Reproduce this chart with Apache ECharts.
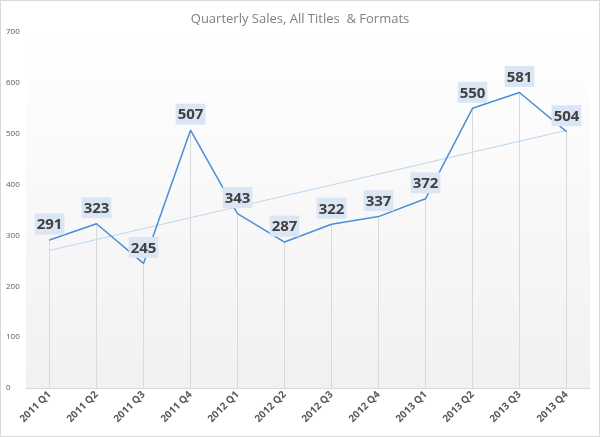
<!DOCTYPE html>
<html>
<head>
<meta charset="utf-8">
<script src="https://cdn.jsdelivr.net/npm/echarts@6/dist/echarts.min.js"></script>
<style>
  html, body { margin: 0; padding: 0; background: #fff; }
  #chart { width: 598px; height: 435px; border: 1px solid #d9d9d9; }
</style>
</head>
<body>
<div id="chart"></div>
<script>
const quarters = ['2011 Q1', '2011 Q2', '2011 Q3', '2011 Q4', '2012 Q1', '2012 Q2',
                  '2012 Q3', '2012 Q4', '2013 Q1', '2013 Q2', '2013 Q3', '2013 Q4']
const sales = [291, 323, 245, 507, 343, 287, 322, 337, 372, 550, 581, 504]
const yTicks = [0, 100, 200, 300, 400, 500, 600, 700]

// linear trend line, fitted to the sales values
function linearTrend(vals) {
  const n = vals.length
  const mx = (n - 1) / 2
  const my = vals.reduce((a, b) => a + b, 0) / n
  let sxy = 0, sxx = 0
  vals.forEach((v, i) => { sxy += (i - mx) * (v - my); sxx += (i - mx) * (i - mx) })
  const k = sxy / sxx
  return vals.map((v, i) => +(my + k * (i - mx)).toFixed(1))
}
const trend = linearTrend(sales)

const mychart = echarts.init(document.getElementById('chart'))
const option = {
  animation: false,
  title: {
    text: 'Quarterly Sales, All Titles  & Formats',
    left: 'center',
    top: 7,
    textStyle: { color: '#808080', fontSize: 13, fontWeight: 'normal', fontFamily: 'Open Sans' }
  },
  grid: {
    left: 25,
    right: 9,
    top: 31,
    bottom: 48,
    show: true,
    borderWidth: 0,
    backgroundColor: new echarts.graphic.LinearGradient(0, 0, 0, 1, [
      { offset: 0, color: '#ffffff' },
      { offset: 1, color: '#f1f1f1' }
    ])
  },
  xAxis: {
    type: 'category',
    data: quarters,
    boundaryGap: true,
    axisLine: { lineStyle: { color: '#d9d9d9' } },
    axisTick: { show: false },
    axisLabel: {
      rotate: 45,
      interval: 0,
      margin: 5,
      color: '#595959',
      fontSize: 10,
      fontWeight: 'bold',
      fontFamily: 'Open Sans'
    }
  },
  yAxis: {
    type: 'value',
    min: yTicks[0],
    max: yTicks[yTicks.length - 1],
    interval: 100,
    axisLine: { show: false },
    axisTick: { show: false },
    splitLine: { show: false },
    axisLabel: {
      align: 'left',
      margin: 20,
      color: '#595959',
      fontSize: 8,
      fontFamily: 'Open Sans'
    }
  },
  series: [
    {
      // drop lines from each point to the axis
      type: 'bar',
      data: sales,
      barWidth: 1,
      silent: true,
      itemStyle: { color: '#d9d9d9' },
      z: 1
    },
    {
      type: 'line',
      data: trend,
      symbol: 'none',
      silent: true,
      lineStyle: { color: '#bdd7ee', width: 1 },
      z: 2
    },
    {
      type: 'line',
      data: sales,
      symbol: 'circle',
      symbolSize: 1,
      showSymbol: true,
      itemStyle: { color: '#4a8fd8' },
      lineStyle: { color: '#4a8fd8', width: 1.5 },
      label: {
        show: true,
        position: 'top',
        distance: 5,
        color: '#404040',
        fontSize: 15,
        lineHeight: 15,
        fontWeight: 'bold',
        fontFamily: 'Open Sans',
        backgroundColor: '#dbe6f4',
        padding: [4, 2, 2, 2]
      },
      z: 3
    }
  ]
}
mychart.setOption(option, true)
</script>
</body>
</html>
